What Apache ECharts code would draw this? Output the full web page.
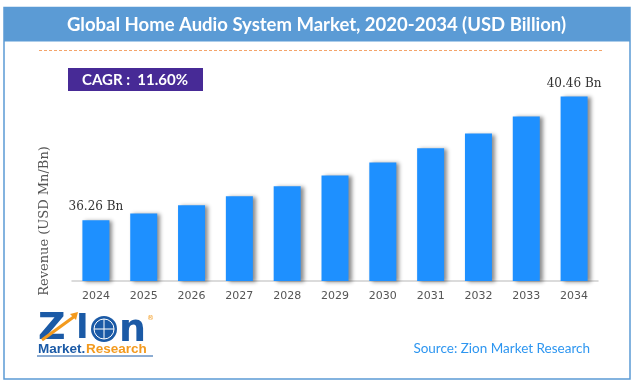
<!DOCTYPE html>
<html><head><meta charset="utf-8">
<script src="https://cdn.jsdelivr.net/npm/echarts@6/dist/echarts.min.js"></script>
<style>html,body{margin:0;padding:0;background:#fff}#c{width:636px;height:385px}</style>
</head><body><div id="c"></div>
<script>
const years = ['2024','2025','2026','2027','2028','2029','2030','2031','2032','2033','2034'];
const revenue = [36.26, 36.49, 36.77, 37.07, 37.41, 37.78, 38.22, 38.70, 39.20, 39.78, 40.46];
const labelledYears = ['2024','2034'];
const titleText = 'Global Home Audio System Market, 2020-2034 (USD Billion)';
const cagrText = 'CAGR :  11.60%';
const yAxisTitle = 'Revenue (USD Mn/Bn)';
const sourceText = 'Source: Zion Market Research';

const chart = echarts.init(document.getElementById('c'));
const barData = revenue.map((v, i) => labelledYears.includes(years[i])
  ? { value: v, label: { show: true } } : { value: v });

chart.setOption({
  animation: false,
  grid: { left: 72, right: 38, top: 51, bottom: 104 },
  xAxis: {
    type: 'category', data: years,
    axisLine: { lineStyle: { color: '#d0d0d0', width: 1.5 } },
    axisTick: { show: false },
    axisLabel: { color: '#555', fontFamily: 'DejaVu Sans', fontSize: 11, margin: 10 }
  },
  yAxis: {
    type: 'value', min: 34.2, max: 42,
    axisLine: { show: false }, axisTick: { show: false },
    axisLabel: { show: false }, splitLine: { show: false }
  },
  series: [{
    type: 'bar', data: barData, barWidth: 27,
    itemStyle: { color: '#1E90FF', shadowColor: 'rgba(0,0,0,0.45)', shadowBlur: 4, shadowOffsetX: 3, shadowOffsetY: 1 },
    label: { show: false, position: 'top', distance: 7, formatter: p => p.value.toFixed(2) + ' Bn',
      fontFamily: 'DejaVu Serif', fontSize: 12, color: '#333' }
  }],
  graphic: [
    { type: 'rect', shape: { x: 4, y: 7.5, width: 626, height: 371.5 }, style: { fill: 'none', stroke: '#5B9BD5', lineWidth: 1.5 }, z: 1 },
    { type: 'rect', shape: { x: 4, y: 7.5, width: 626, height: 34 }, style: { fill: '#5B9BD5' }, z: 1 },
    { type: 'text', x: 316.5, y: 25, style: { text: titleText, fill: '#fff', font: 'bold 18.5px Lato', align: 'center', verticalAlign: 'middle' }, z: 2 },
    { type: 'line', shape: { x1: 39, y1: 50.5, x2: 603, y2: 50.5 }, style: { stroke: '#F4A46A', lineWidth: 1, lineDash: [3, 2] }, z: 1 },
    { type: 'rect', shape: { x: 68, y: 68, width: 135, height: 23 }, style: { fill: '#472A96' }, z: 1 },
    { type: 'text', x: 135, y: 80, style: { text: cagrText, fill: '#fff', font: 'bold 15px Lato', align: 'center', verticalAlign: 'middle' }, z: 2 },
    { type: 'text', x: 45, y: 221, rotation: Math.PI / 2, style: { text: yAxisTitle, fill: '#555', font: '13px "DejaVu Serif"', align: 'center', verticalAlign: 'middle' }, z: 2 },
    // logo
    { type: 'text', x: 38, y: 329, style: { text: 'Z', fill: '#1B5AA6', font: 'bold 38px "DejaVu Sans"', verticalAlign: 'middle' }, z: 2 },
    { type: 'line', shape: { x1: 42, y1: 340, x2: 75, y2: 316 }, style: { stroke: '#F39A1E', lineWidth: 3 }, z: 3 },
    { type: 'polygon', shape: { points: [[70, 314], [78, 312], [76, 320]] }, style: { fill: '#F39A1E' }, z: 3 },
    { type: 'text', x: 76, y: 329, style: { text: 'I', fill: '#1B5AA6', font: 'bold 34px "DejaVu Sans"', verticalAlign: 'middle' }, z: 2 },
    { type: 'circle', shape: { cx: 104, cy: 329, r: 13 }, style: { fill: '#1B5AA6' }, z: 2 },
    { type: 'circle', shape: { cx: 104, cy: 329, r: 10 }, style: { fill: 'none', stroke: '#ffffff', lineWidth: 1 }, z: 3 },
    { type: 'line', shape: { x1: 94, y1: 329, x2: 114, y2: 329 }, style: { stroke: '#fff', lineWidth: 1 }, z: 3 },
    { type: 'line', shape: { x1: 104, y1: 319, x2: 104, y2: 339 }, style: { stroke: '#fff', lineWidth: 1 }, z: 3 },
    { type: 'text', x: 119, y: 331, style: { text: 'n', fill: '#1B5AA6', font: 'bold 38px "DejaVu Sans"', verticalAlign: 'middle' }, z: 2 },
    { type: 'text', x: 147, y: 318, style: { text: '®', fill: '#F39A1E', font: '7px "DejaVu Sans"', verticalAlign: 'middle' }, z: 2 },
    { type: 'text', x: 38, y: 349, style: { text: 'Market.', fill: '#1B5AA6', font: 'bold 13.5px "Liberation Sans"', verticalAlign: 'middle' }, z: 2 },
    { type: 'text', x: 86, y: 349, style: { text: 'Research', fill: '#F39A1E', font: 'bold 13.5px "Liberation Sans"', verticalAlign: 'middle' }, z: 2 },
    { type: 'line', shape: { x1: 37, y1: 356, x2: 153, y2: 356 }, style: { stroke: '#1B5AA6', lineWidth: 1 }, z: 2 },
    { type: 'text', x: 590, y: 348.5, style: { text: sourceText, fill: '#2E96F0', font: '13.5px Lato', align: 'right', verticalAlign: 'middle' }, z: 2 }
  ]
});
</script></body></html>
